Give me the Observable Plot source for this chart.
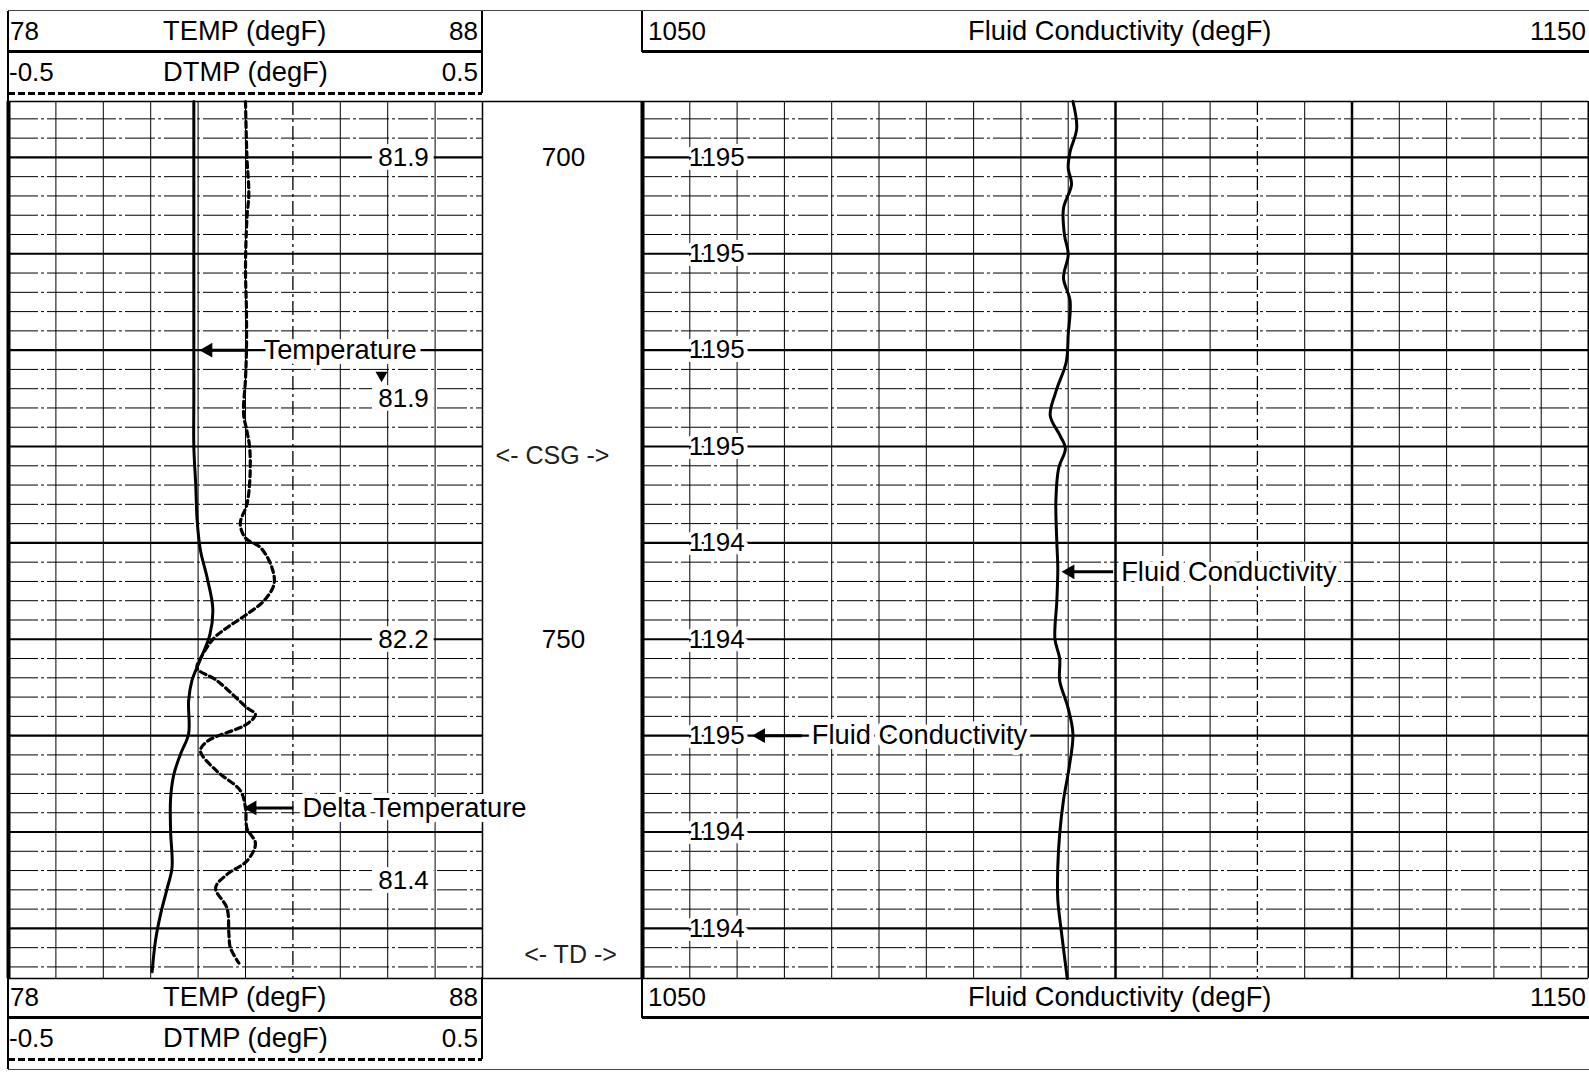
<!DOCTYPE html>
<html>
<head>
<meta charset="utf-8">
<script src="https://cdn.jsdelivr.net/npm/d3@7"></script>
<script src="https://cdn.jsdelivr.net/npm/@observablehq/plot@0.6"></script>
<style>
  html, body { margin: 0; padding: 0; background: #fff; overflow: hidden; }
  #root { position: relative; width: 1589px; height: 1073px; overflow: hidden;
          font-family: "Liberation Sans", Arial, sans-serif; color: #000; background: #fff; }
  .lbl { position: absolute; font-size: 26px; line-height: 26px; white-space: nowrap; }
  .lbl.w { font-size: 27.3px; }
  .ln { position: absolute; }
</style>
</head>
<body>
<div id="root"></div>
<script>
// ---------------- data ----------------
const depthDomain = [694.2, 785.2];
const tempScale = [78, 88];
const dtmpScale = [-0.5, 0.5];
const condScale = [1050, 1150];
const condBackupScale = [1150, 1250];
const curveTitles = ["TEMP (degF)", "DTMP (degF)", "Fluid Conductivity (degF)"];

const tempDepth = [694.2, 705, 715, 725, 730, 734, 737.7, 740.8, 743.6, 746.8, 749.5, 752.3, 754.3, 756.4, 759.8, 761.9, 764, 766.5, 769.9, 773.7, 775.8, 778.5, 781.3, 784.5];
const tempValue = [81.91, 81.91, 81.91, 81.91, 81.91, 81.95, 81.98, 82.05, 82.19, 82.31, 82.25, 82.03, 81.87, 81.80, 81.80, 81.63, 81.49, 81.42, 81.42, 81.45, 81.35, 81.21, 81.10, 81.03];

const dtmpDepth = [694.2, 700, 703.8, 706.3, 711.5, 716, 720, 723, 726.6, 728.4, 730.2, 733.6, 736, 738, 739.5, 740.5, 742.6, 744.3, 746, 747.4, 748.8, 749.9, 752, 753, 754.3, 757.1, 757.8, 758.8, 760.6, 761.6, 763.7, 765.7, 767.5, 769.6, 771.2, 773, 774.4, 775.8, 777.9, 780.6, 782, 783.6];
const dtmpValue = [0.0, 0.003, 0.007, 0.003, 0.0, 0.002, 0.002, 0.0, -0.004, 0.003, 0.009, 0.009, 0.003, -0.011, 0.0, 0.032, 0.056, 0.060, 0.039, 0.003, -0.039, -0.067, -0.095, -0.102, -0.06, 0.003, 0.021, 0.003, -0.081, -0.095, -0.06, -0.011, 0.0, 0.003, 0.021, 0.003, -0.039, -0.063, -0.039, -0.035, -0.032, -0.014];

const condDepth = [694.2, 697, 699.4, 701.1, 702.8, 705.3, 708, 710.1, 712.5, 714.9, 718.4, 721.2, 724.3, 726.8, 728.8, 730.2, 732.2, 735.5, 740, 742.6, 746, 750, 752, 754.3, 757, 759.8, 763.3, 766.7, 770.2, 773.6, 777, 780.5, 785.2];
const condValue = [1195.5, 1195.9, 1195.2, 1195.0, 1195.35, 1194.5, 1194.6, 1195.0, 1194.5, 1195.2, 1195.0, 1194.8, 1193.7, 1193.1, 1194.1, 1194.7, 1194.0, 1193.7, 1193.8, 1193.9, 1193.8, 1193.6, 1194.1, 1194.1, 1194.95, 1195.5, 1195.1, 1194.5, 1194.1, 1193.9, 1193.9, 1194.3, 1194.9];

const tempTagDepth = [700, 725, 750, 775];
const tempTagText = ["81.9", "81.9", "82.2", "81.4"];
const condTagDepth = [700, 710, 720, 730, 740, 750, 760, 770, 780];
const condTagText = ["1195", "1195", "1195", "1195", "1194", "1194", "1195", "1194", "1194"];
const depthTagDepth = [700, 750];
const markerText = ["<- CSG ->", "<- TD ->"];
const markerDepth = [731, 782.8];
const calloutText = ["Temperature", "Delta Temperature", "Fluid Conductivity", "Fluid Conductivity"];
const calloutDepth = [720, 767.5, 743, 760];

// ---------------- layout ----------------
const FONT = '"Liberation Sans", Arial, sans-serif';
const INK = "#000";
const TOP = 101, H = 877;
const LX = 8, LW = 474, MX = 482, MW = 160, RX = 642, RW = 946;
const root = document.getElementById("root");

const tempRows = tempDepth.map((d, i) => ({depth: d, value: tempValue[i]}));
const dtmpRows = dtmpDepth.map((d, i) => ({depth: d, value: dtmpValue[i]}));
const condRows = condDepth.map((d, i) => ({depth: d, value: condValue[i]}));

const minorDepths = d3.range(696, 785, 2).filter(d => d % 10 !== 0);
const majorDepths = d3.range(700, 785, 10);

function place(svg, x, y, w) {
  const d = document.createElement("div");
  d.style.cssText = `position:absolute;left:${x}px;top:${y}px;width:${w}px;height:${H}px;`;
  d.appendChild(svg);
  root.appendChild(d);
}
function plotTrack(w, xDomain, marks) {
  return Plot.plot({
    width: w, height: H, margin: 0,
    x: {domain: xDomain, axis: null},
    y: {domain: depthDomain, reverse: true, axis: null},
    style: {overflow: "visible", background: "transparent", fontFamily: FONT, maxWidth: "none"},
    marks
  });
}
function hGrid() {
  return [
    Plot.ruleY(minorDepths, {stroke: INK, strokeWidth: 1, strokeDasharray: "30 3 3 3"}),
    Plot.ruleY(majorDepths, {stroke: INK, strokeWidth: 2.2}),
    Plot.ruleY(depthDomain, {stroke: INK, strokeWidth: 1.5})
  ];
}
const tagOpts = {fontSize: 26, fontFamily: FONT, fill: INK, stroke: "white", strokeWidth: 8, paintOrder: "stroke", textAnchor: "start"};
const wordOpts = {...tagOpts, fontSize: 27.3, strokeWidth: 10};
function arrow(depth, tipCenter, tail) {
  return [
    Plot.ruleY([depth], {x1: tipCenter, x2: tail, stroke: INK, strokeWidth: 3}),
    Plot.dot([depth], {x: tipCenter, y: d => d, symbol: "triangle", r: 5.5, rotate: -90, fill: INK, stroke: "none"})
  ];
}

// ---------------- left track (TEMP scale) ----------------
const leftThin = d3.range(79, 88).filter(v => v !== 84);
const leftBase = plotTrack(LW, tempScale, [
  ...hGrid(),
  Plot.ruleX(leftThin, {stroke: INK, strokeWidth: 1}),
  Plot.ruleX([84], {stroke: INK, strokeWidth: 1.3, strokeDasharray: "14 4 3 4"}),
  Plot.ruleX([tempScale[0]], {stroke: INK, strokeWidth: 4}),
  Plot.ruleX([tempScale[1]], {stroke: INK, strokeWidth: 1.5}),
  Plot.rect(tempTagDepth, {x1: 85.68, x2: 86.98, y1: d => d - 1.15, y2: d => d + 1.15, fill: "white"}),
  Plot.text(tempTagDepth, {...tagOpts, x: 85.8, y: d => d, text: (d, i) => tempTagText[i]}),
  Plot.text([calloutDepth[0]], {...wordOpts, x: 83.38, y: d => d, text: () => calloutText[0]}),
  Plot.text([calloutDepth[1]], {...wordOpts, x: 84.2, y: d => d, text: () => calloutText[1]}),
  ...arrow(calloutDepth[0], 82.21, 83.05),
  ...arrow(calloutDepth[1], 83.14, 84.02),
  Plot.dot([722.6], {x: 85.87, y: d => d, symbol: "triangle", r: 4.5, rotate: 180, fill: INK, stroke: "none"}),
  Plot.line(tempRows, {x: "value", y: "depth", stroke: INK, strokeWidth: 3, curve: "catmull-rom"})
]);
place(leftBase, LX, TOP, LW);

const leftDtmp = plotTrack(LW, dtmpScale, [
  Plot.line(dtmpRows, {x: "value", y: "depth", stroke: INK, strokeWidth: 3.2, strokeDasharray: "6 4", curve: "catmull-rom"})
]);
place(leftDtmp, LX, TOP, LW);

// ---------------- depth column ----------------
const mid = Plot.plot({
  width: MW, height: H, margin: 0,
  y: {domain: depthDomain, reverse: true, axis: null},
  style: {overflow: "visible", background: "transparent", fontFamily: FONT, maxWidth: "none"},
  marks: [
    Plot.ruleY(depthDomain, {stroke: INK, strokeWidth: 1.5}),
    Plot.text(depthTagDepth, {y: d => d, text: d => String(d), frameAnchor: "middle", dx: 1, fontSize: 26, fontFamily: FONT, fill: INK}),
    Plot.text([markerDepth[0]], {y: d => d, text: () => markerText[0], frameAnchor: "middle", dx: -10, fontSize: 25, fontFamily: FONT, fill: "#222"}),
    Plot.text([markerDepth[1]], {y: d => d, text: () => markerText[1], frameAnchor: "middle", dx: 8, fontSize: 25, fontFamily: FONT, fill: "#222"})
  ]
});
place(mid, MX, TOP, MW);

// ---------------- right track (conductivity) ----------------
const rightThin = d3.range(1055, 1150, 5).filter(v => ![1100, 1115, 1125].includes(v));
const rightBase = plotTrack(RW, condScale, [
  ...hGrid(),
  Plot.ruleX(rightThin, {stroke: INK, strokeWidth: 1}),
  Plot.ruleX([1115], {stroke: INK, strokeWidth: 1.3, strokeDasharray: "14 4 3 4"}),
  Plot.ruleX([1100, 1125], {stroke: INK, strokeWidth: 2.5}),
  Plot.ruleX([condScale[0]], {stroke: INK, strokeWidth: 4}),
  Plot.ruleX([condScale[1]], {stroke: INK, strokeWidth: 2}),
  Plot.text(condTagDepth, {...tagOpts, strokeWidth: 8, x: 1054.9, y: d => d, text: (d, i) => condTagText[i]}),
  Plot.text([calloutDepth[2]], {...wordOpts, x: 1100.6, y: d => d, text: () => calloutText[2]}),
  Plot.text([calloutDepth[3]], {...wordOpts, x: 1067.9, y: d => d, text: () => calloutText[3]}),
  ...arrow(calloutDepth[2], 1095.2, 1099.8),
  ...arrow(calloutDepth[3], 1062.5, 1066.9)
]);
place(rightBase, RX, TOP, RW);

const rightCond = plotTrack(RW, condBackupScale, [
  Plot.line(condRows, {x: "value", y: "depth", stroke: INK, strokeWidth: 3, curve: "catmull-rom"})
]);
place(rightCond, RX, TOP, RW);

// ---------------- headers (legends above / below) ----------------
function label(x, y, text, anchor, word) {
  const d = document.createElement("div");
  d.className = word ? "lbl w" : "lbl";
  d.textContent = text;
  const fs = word ? 27.3 : 26;
  d.style.lineHeight = fs + "px";
  d.style.top = (y - fs / 2) + "px";
  d.style.left = x + "px";
  if (anchor === "end") d.style.transform = "translateX(-100%)";
  root.appendChild(d);
}
function hline(x1, x2, y, w, color, dashed) {
  const d = document.createElement("div");
  d.className = "ln";
  d.style.cssText += `left:${x1}px;top:${y - w / 2}px;width:${x2 - x1}px;height:${w}px;` +
    (dashed ? `background:repeating-linear-gradient(90deg, ${color} 0 7px, transparent 7px 10px);` : `background:${color};`);
  root.appendChild(d);
}
function vline(x, y1, y2, w, color) {
  const d = document.createElement("div");
  d.className = "ln";
  d.style.cssText += `left:${x - w / 2}px;top:${y1}px;width:${w}px;height:${y2 - y1}px;background:${color};`;
  root.appendChild(d);
}
function leftHeader(y0, yEndLeft) {
  vline(LX, y0, yEndLeft, 1.5, INK);
  vline(MX, y0, y0 + 82, 1.5, INK);
  label(10, y0 + 20, String(tempScale[0]), "start");
  label(163, y0 + 20, curveTitles[0], "start", true);
  label(478, y0 + 20, String(tempScale[1]), "end");
  hline(LX, MX, y0 + 40, 3, INK);
  label(9, y0 + 61, String(dtmpScale[0]), "start");
  label(163, y0 + 61, curveTitles[1], "start", true);
  label(478, y0 + 61, String(dtmpScale[1]), "end");
  hline(LX, MX, y0 + 82, 3, INK, true);
}
function rightHeader(y0) {
  vline(RX, y0, y0 + 41, 1.5, INK);
  label(648, y0 + 20, String(condScale[0]), "start");
  label(968, y0 + 20, curveTitles[2], "start", true);
  label(1586, y0 + 20, String(condScale[1]), "end");
  hline(RX, 1589, y0 + 40, 3, INK);
}
hline(LX, 1589, 10, 1, "#444");
leftHeader(11, TOP);
rightHeader(11);
leftHeader(977, 1069);
rightHeader(977);
hline(LX, 1589, 1069, 1, "#444");
</script>
</body>
</html>
